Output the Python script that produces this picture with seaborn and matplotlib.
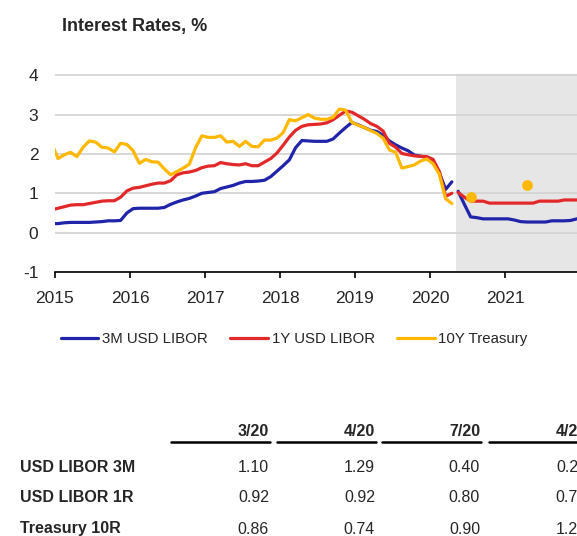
import numpy as np
import pandas as pd
import matplotlib
matplotlib.use('Agg')
import matplotlib.pyplot as plt
from matplotlib.lines import Line2D
import seaborn as sns

# Monthly history, Dec 2014 .. Apr 2020 (values in %)
hist_start, hist_end = '2014-12', '2020-04'
libor_3m = [0.23,
            0.23, 0.25, 0.26, 0.26, 0.26, 0.26, 0.27, 0.28, 0.30, 0.30, 0.31, 0.50,
            0.61, 0.62, 0.62, 0.62, 0.62, 0.64, 0.72, 0.78, 0.83, 0.87, 0.93, 1.00,
            1.02, 1.04, 1.12, 1.16, 1.20, 1.26, 1.30, 1.30, 1.31, 1.33, 1.42, 1.56,
            1.70, 1.85, 2.16, 2.34, 2.33, 2.32, 2.32, 2.32, 2.38, 2.53, 2.67, 2.80,
            2.74, 2.67, 2.60, 2.57, 2.47, 2.33, 2.23, 2.15, 2.08, 1.97, 1.94, 1.91,
            1.82, 1.52, 1.10, 1.29]
libor_1y = [0.58,
            0.62, 0.66, 0.70, 0.71, 0.71, 0.74, 0.77, 0.80, 0.81, 0.81, 0.90, 1.06,
            1.13, 1.15, 1.19, 1.23, 1.26, 1.26, 1.32, 1.47, 1.52, 1.54, 1.58, 1.65,
            1.69, 1.70, 1.78, 1.75, 1.73, 1.72, 1.75, 1.70, 1.70, 1.79, 1.88, 2.02,
            2.22, 2.43, 2.60, 2.70, 2.74, 2.75, 2.76, 2.79, 2.87, 2.98, 3.09, 3.06,
            2.97, 2.88, 2.77, 2.70, 2.58, 2.27, 2.17, 2.01, 1.98, 1.95, 1.94, 1.93,
            1.86, 1.55, 0.92, 1.00]
treasury_10y = [2.25,
                1.88, 1.98, 2.04, 1.93, 2.17, 2.33, 2.30, 2.17, 2.15, 2.05, 2.27, 2.24,
                2.08, 1.76, 1.86, 1.80, 1.79, 1.62, 1.47, 1.55, 1.64, 1.74, 2.16, 2.46,
                2.42, 2.42, 2.46, 2.30, 2.32, 2.19, 2.32, 2.19, 2.18, 2.35, 2.35, 2.40,
                2.54, 2.87, 2.84, 2.92, 3.00, 2.91, 2.88, 2.88, 2.93, 3.14, 3.11, 2.80,
                2.73, 2.67, 2.59, 2.52, 2.40, 2.10, 2.04, 1.64, 1.68, 1.72, 1.82, 1.87,
                1.75, 1.48, 0.86, 0.74]

# Forecast, May 2020 .. Jan 2022
fc_start, fc_end = '2020-05', '2022-01'
fc_3m = [1.05, 0.72, 0.40, 0.38, 0.35, 0.35, 0.35, 0.35, 0.35, 0.32, 0.28, 0.27,
         0.27, 0.27, 0.27, 0.30, 0.30, 0.30, 0.31, 0.35, 0.38]
fc_1y = [1.02, 0.90, 0.80, 0.80, 0.80, 0.75, 0.75, 0.75, 0.75, 0.75, 0.75, 0.75,
         0.75, 0.80, 0.80, 0.80, 0.80, 0.83, 0.83, 0.83, 0.83]
fc_10y_dates = ['2020-07', '2021-04']
fc_10y = [0.90, 1.20]

series_names = ['3M USD LIBOR', '1Y USD LIBOR', '10Y Treasury']
colors = ['#2024a8', '#e3282a', '#ffb800']

# table below the chart
table_cols = ['3/20', '4/20', '7/20', '4/21']
table_rows = ['USD LIBOR 3M', 'USD LIBOR 1R', 'Treasury 10R']
table_vals = [['1.10', '1.29', '0.40', '0.27'],
              ['0.92', '0.92', '0.80', '0.75'],
              ['0.86', '0.74', '0.90', '1.20']]


def to_year(periods):
    p = pd.PeriodIndex(periods, freq='M')
    return p.year + (p.month - 0.5) / 12


hist_x = to_year(pd.period_range(hist_start, hist_end, freq='M'))
fc_x = to_year(pd.period_range(fc_start, fc_end, freq='M'))

hist = pd.concat([
    pd.DataFrame({'year': hist_x, 'rate': v, 'series': n})
    for n, v in zip(series_names, [libor_3m, libor_1y, treasury_10y])
])
fc = pd.concat([
    pd.DataFrame({'year': fc_x, 'rate': v, 'series': n})
    for n, v in zip(series_names[:2], [fc_3m, fc_1y])
])
fc_dots = pd.DataFrame({'year': to_year(fc_10y_dates), 'rate': fc_10y})

sns.set_theme(style='white')
plt.rcParams['font.family'] = ['Liberation Sans', 'DejaVu Sans']
plt.rcParams['axes.unicode_minus'] = False

W, H = 577, 536
fig = plt.figure(figsize=(W / 100, H / 100), dpi=100)
ax = fig.add_axes([55 / W, 1 - 272 / H, 525 / W, 198 / H])

palette = dict(zip(series_names, colors))
ax.axvspan(2020.35, 2023, color='#e6e6e6', zorder=0, lw=0)

sns.lineplot(data=hist, x='year', y='rate', hue='series', palette=palette,
             hue_order=series_names, linewidth=2.3, ax=ax, zorder=3)
handles, labels = ax.get_legend_handles_labels()
ax.get_legend().remove()
sns.lineplot(data=fc, x='year', y='rate', hue='series', palette=palette,
             linewidth=2.3, ax=ax, legend=False, zorder=3)
sns.scatterplot(data=fc_dots, x='year', y='rate', color=colors[2], s=60,
                linewidth=0, ax=ax, zorder=4, legend=False)
if ax.get_legend() is not None:
    ax.get_legend().remove()

ax.set_xlim(2015, 2022)
ax.set_ylim(-1, 4.03)
ax.set_xticks(range(2015, 2022))
ax.set_yticks(range(-1, 5))
ax.set_xlabel('')
ax.set_ylabel('')
ax.set_axisbelow(True)
ax.yaxis.grid(True, color='#d4d4d4', linewidth=1.3)
ax.xaxis.grid(False)
for s in ['top', 'right', 'left']:
    ax.spines[s].set_visible(False)
ax.spines['bottom'].set_color('black')
ax.spines['bottom'].set_linewidth(1.2)
ax.tick_params(axis='x', direction='out', length=4, width=1.2, color='black',
               labelsize=12.5, pad=10, bottom=True)
ax.tick_params(axis='y', length=0, labelsize=12.5, pad=12)

fig.legend(handles, labels, loc='center', bbox_to_anchor=(0.51, 1 - 339 / H),
           ncol=3, frameon=False, fontsize=10.8, handlelength=2.5,
           handletextpad=0.25, columnspacing=1.5)

fig.text(62 / W, 1 - 27 / H, 'Interest Rates, %', fontsize=13, fontweight='bold',
         ha='left', va='center')

# table
col_right = [269, 375, 480, 587]
for c, xr in zip(table_cols, col_right):
    fig.text(xr / W, 1 - 431 / H, c, fontsize=11.5, fontweight='bold',
             ha='right', va='center')
    fig.add_artist(Line2D([(xr - 98) / W, (xr + 1) / W], [1 - 442 / H] * 2,
                          color='black', linewidth=1.8, transform=fig.transFigure))
row_y = [467, 498, 529]
for r, yv, vals in zip(table_rows, row_y, table_vals):
    fig.text(20 / W, 1 - yv / H, r, fontsize=11.5, fontweight='bold',
             ha='left', va='center')
    for v, xr in zip(vals, col_right):
        fig.text(xr / W, 1 - yv / H, v, fontsize=11.5, ha='right', va='center')

fig.savefig('out.png', dpi=100)
